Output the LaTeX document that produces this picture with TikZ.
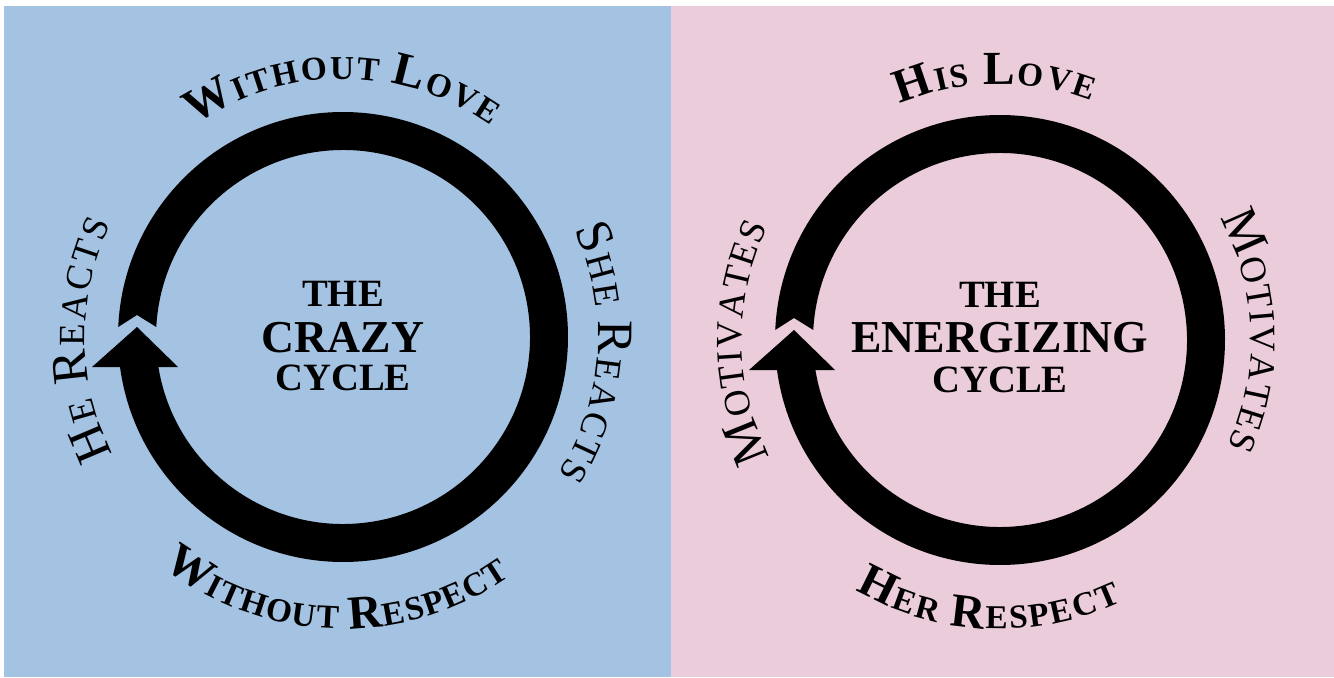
\documentclass[tikz,border=0pt]{standalone}
\usepackage{fontspec}
\setmainfont{Liberation Serif}
\usetikzlibrary{decorations.text}
\definecolor{CrazyBlue}{RGB}{164,194,226}
\definecolor{EnergyPink}{RGB}{234,204,218}
\newcommand\lblB{\fontsize{27}{29}\selectfont\bfseries}
\newcommand\lblb{\fontsize{19}{21}\selectfont\bfseries}
\newcommand\lblR{\fontsize{29}{31}\selectfont}
\newcommand\lblr{\fontsize{21}{23}\selectfont}
\tikzset{
  ring/.style     = {fill=black},
  arclabel/.style = {decorate, decoration={text along path,
                     text align=fit to path, text={#1}}}
}

\begin{document}
\begin{tikzpicture}[
    x=0.02cm, y=0.02cm,
    title/.style    = {font=\fontsize{22}{24}\selectfont\bfseries,
                       inner sep=0pt, anchor=base},
    titlebig/.style = {title, font=\fontsize{26}{28}\selectfont\bfseries},
  ]
  \useasboundingbox (0,0) rectangle (1334,677);
  \fill[white]      (0,0)   rectangle (1334,677);
  \fill[CrazyBlue]  (4,0)   rectangle (671,671);
  \fill[EnergyPink] (671,0) rectangle (1334,671);

  % the two rings with their arrow heads
  \foreach \cx/\cy in {343/340, 1000/337}{
    \begin{scope}[shift={(\cx,\cy)}]
      \fill[ring] (177.45:225) arc[start angle=177.45, end angle=-173, radius=225]
                  -- (-173:187) arc[start angle=-173, end angle=176.93, radius=187]
                  -- (-206,22) -- cycle;
      \fill[ring] (-251,-30) -- (-206,10) -- (-165,-30) -- cycle;
    \end{scope}
  }

  % left: the crazy cycle
  \node[title]    (crazythe)   at (343,371) {THE};
  \node[titlebig] (crazy)      at (343,325) {CRAZY};
  \node[title]    (crazycycle) at (343,287) {CYCLE};

  \begin{scope}[shift={(343,340)}]
    \path[arclabel={|\lblB|W|\lblb|ITHOUT |\lblB|L|\lblb|OVE}]
      (125:258) arc[start angle=125, end angle=55, radius=258];
    \path[arclabel={|\lblB|W|\lblb|ITHOUT |\lblB|R|\lblb|ESPECT}]
      (232:292) arc[start angle=232, end angle=305, radius=292];
    \path[arclabel={|\lblR|H|\lblr|E |\lblR|R|\lblr|EACTS}]
      (207:258) arc[start angle=207, end angle=154, radius=258];
    \path[arclabel={|\lblR|S|\lblr|HE |\lblR|R|\lblr|EACTS}]
      (25:255) arc[start angle=25, end angle=-32.5, radius=255];
  \end{scope}

  % right: the energizing cycle
  \node[title]    (energythe)   at (1000,370) {THE};
  \node[titlebig] (energizing)  at (1000,325) {ENERGIZING};
  \node[title]    (energycycle) at (1000,285) {CYCLE};

  \begin{scope}[shift={(1000,337)}]
    \path[arclabel={|\lblB|H|\lblb|IS |\lblB|L|\lblb|OVE}]
      (113:256) arc[start angle=113, end angle=69, radius=256];
    \path[arclabel={|\lblB|H|\lblb|ER |\lblB|R|\lblb|ESPECT}]
      (240:289) arc[start angle=240, end angle=295, radius=289];
    \path[arclabel={|\lblR|M|\lblr|OTIVATES}]
      (207:258) arc[start angle=207, end angle=154, radius=258];
    \path[arclabel={|\lblR|M|\lblr|OTIVATES}]
      (29:251) arc[start angle=29, end angle=-25, radius=251];
  \end{scope}

\end{tikzpicture}
\end{document}
